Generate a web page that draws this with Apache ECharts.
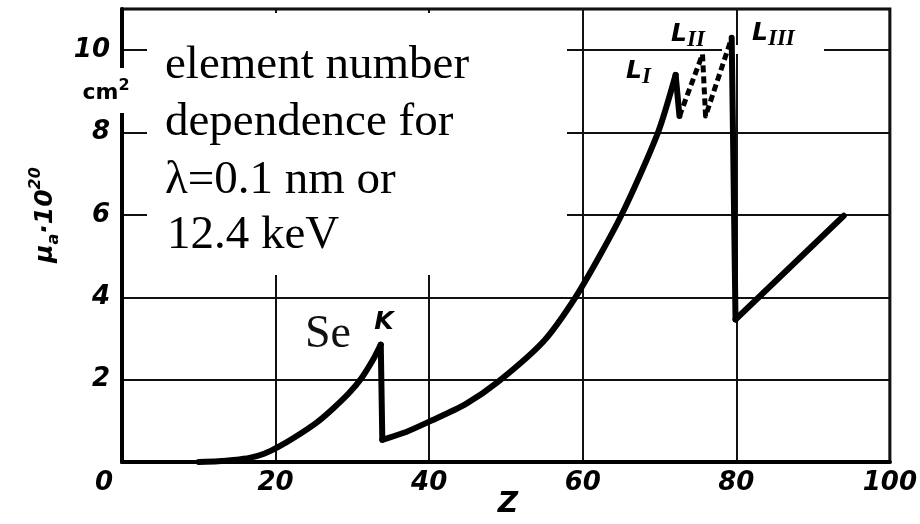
<!DOCTYPE html>
<html><head><meta charset="utf-8">
<script src="https://cdn.jsdelivr.net/npm/echarts@6/dist/echarts.min.js"></script>
<style>html,body{margin:0;padding:0;background:#fff}#c{width:920px;height:524px}</style>
</head><body><div id="c"></div>
<script>
// Tick values
const xTicks = [0, 20, 40, 60, 80, 100];
const yTicks = [0, 2, 4, 6, 8, 10];
// Rising branch up to Se K edge
const zRise1 = [10, 12.5, 14.5, 16.6, 18.5, 20.3, 22.5, 25.3, 27.5, 29.6, 31.2, 32.8, 33.7];
const muRise1 = [0, 0.02, 0.05, 0.1, 0.2, 0.36, 0.6, 0.95, 1.3, 1.68, 2.04, 2.52, 2.85];
// After K edge up to L_I edge
const zRise2 = [33.9, 37, 40, 44.7, 49, 55, 59.4, 65, 69.8, 72.1];
const muRise2 = [0.54, 0.73, 0.98, 1.4, 1.95, 2.95, 4.1, 5.98, 8.0, 9.4];
// L_I -> L_II -> L_III fine structure (dashed)
const zEdges = [72.6, 75.6, 76.0, 79.4];
const muEdges = [8.4, 9.9, 8.4, 10.3];
// After L_III edge
const zRise3 = [79.9, 94];
const muRise3 = [3.46, 5.98];

function pairs(xs, ys) { return xs.map((x, i) => [x, ys[i]]); }
const last = a => a[a.length - 1];
const kDrop = [[last(zRise1), last(muRise1)], [zRise2[0], muRise2[0]]];
const lIDrop = [[last(zRise2), last(muRise2)], [zEdges[0], muEdges[0]]];
const lIIIDrop = [[last(zEdges), last(muEdges)], [zRise3[0], muRise3[0]]];

const tickFont = { fontFamily: 'DejaVu Sans', fontStyle: 'italic', fontWeight: 'bold', fontSize: 26, color: '#000' };
const serif = 'Liberation Serif';
const solid = { color: '#000', width: 6, join: 'round', cap: 'round' };
function lineSeries(data, style, smooth) {
  return { type: 'line', data: data, showSymbol: false, symbol: 'none', z: 2, smooth: smooth || false, lineStyle: style };
}
const lRich = {
  l: { fontFamily: 'DejaVu Sans', fontStyle: 'italic', fontWeight: 'bold', fontSize: 25, lineHeight: 30, fill: '#000', verticalAlign: 'top' },
  s: { fontFamily: serif, fontStyle: 'italic', fontWeight: 'bold', fontSize: 23, lineHeight: 22, fill: '#000', verticalAlign: 'bottom' }
};

const chart = echarts.init(document.getElementById('c'), null, { renderer: 'canvas' });
chart.setOption({
  animation: false,
  backgroundColor: '#fff',
  grid: { left: 122, right: 27, top: 9, bottom: 62, show: true, borderColor: '#000', borderWidth: 3, backgroundColor: 'transparent' },
  xAxis: {
    type: 'value', min: 0, max: 100, interval: 20,
    axisLine: { show: true, lineStyle: { color: '#000', width: 4 } },
    axisTick: { show: false },
    splitLine: { show: true, lineStyle: { color: '#111', width: 2 } },
    axisLabel: Object.assign({}, tickFont, {
      margin: 8,
      formatter: v => (xTicks.indexOf(v) === 0 ? '{z|' + v + '}' : (xTicks.indexOf(v) >= 0 ? String(v) : '')),
      rich: { z: Object.assign({}, tickFont, { padding: [0, 36, 0, 0] }) }
    })
  },
  yAxis: {
    type: 'value', min: 0, max: 11, interval: 2,
    axisLine: { show: true, lineStyle: { color: '#000', width: 4 } },
    axisTick: { show: false },
    splitLine: { show: true, lineStyle: { color: '#111', width: 2 } },
    axisLabel: Object.assign({}, tickFont, {
      margin: 12, showMaxLabel: false,
      formatter: v => (yTicks.indexOf(v) > 0 ? String(v) : '')
    })
  },
  series: [
    lineSeries(pairs(zRise1, muRise1), solid, 0.25),
    lineSeries(kDrop, solid),
    lineSeries(pairs(zRise2, muRise2), solid, 0.25),
    lineSeries(lIDrop, solid),
    lineSeries(pairs(zEdges, muEdges), { color: '#000', width: 5, type: [7, 4], join: 'round' }),
    lineSeries(lIIIDrop, solid),
    lineSeries(pairs(zRise3, muRise3), solid)
  ],
  graphic: [
    { type: 'rect', z: 1, shape: { x: 147, y: 13, width: 420, height: 262 }, style: { fill: '#fff' } },
    { type: 'rect', z: 1, shape: { x: 110, y: 68, width: 24, height: 45 }, style: { fill: '#fff' } },
    { type: 'rect', z: 1, shape: { x: 722, y: 45, width: 102, height: 9 }, style: { fill: '#fff' } },
    { type: 'text', z: 3, style: { text: 'element number', x: 165, y: 66, fontFamily: serif, fontSize: 47, fill: '#000', align: 'left', verticalAlign: 'middle' } },
    { type: 'text', z: 3, style: { text: 'dependence for', x: 165, y: 123, fontFamily: serif, fontSize: 47, fill: '#000', align: 'left', verticalAlign: 'middle' } },
    { type: 'text', z: 3, style: { text: 'λ=0.1 nm or', x: 165, y: 181, fontFamily: serif, fontSize: 47, fill: '#000', align: 'left', verticalAlign: 'middle' } },
    { type: 'text', z: 3, style: { text: '12.4 keV', x: 167, y: 236, fontFamily: serif, fontSize: 47, fill: '#000', align: 'left', verticalAlign: 'middle' } },
    { type: 'text', z: 3, style: { text: 'Se', x: 328, y: 335, fontFamily: serif, fontSize: 46, fill: '#111', align: 'center', verticalAlign: 'middle' } },
    { type: 'text', z: 3, style: { text: 'K', x: 384, y: 322, fontFamily: 'DejaVu Sans', fontStyle: 'italic', fontWeight: 'bold', fontSize: 25, fill: '#000', align: 'center', verticalAlign: 'middle' } },
    { type: 'text', z: 3, style: { text: '{l|L}{s|I}', x: 626, y: 74, align: 'left', verticalAlign: 'middle', rich: lRich } },
    { type: 'text', z: 3, style: { text: '{l|L}{s|II}', x: 671, y: 37, align: 'left', verticalAlign: 'middle', rich: lRich } },
    { type: 'text', z: 3, style: { text: '{l|L}{s|III}', x: 752, y: 36, align: 'left', verticalAlign: 'middle', rich: lRich } },
    { type: 'text', z: 3, style: { text: 'cm{p|2}', x: 106, y: 93, align: 'center', verticalAlign: 'middle',
        fontFamily: 'DejaVu Sans', fontWeight: 'bold', fontSize: 22, fill: '#000',
        rich: { p: { fontFamily: 'DejaVu Sans', fontWeight: 'bold', fontSize: 16, lineHeight: 30, fill: '#000', verticalAlign: 'top' } } } },
    { type: 'text', z: 3, x: 45, y: 215, rotation: Math.PI / 2,
      style: { text: '{m|μ}{s|a}{m|·10}{p|20}', x: 0, y: 0, align: 'center', verticalAlign: 'middle',
        rich: { m: { fontFamily: 'DejaVu Sans', fontStyle: 'italic', fontWeight: 'bold', fontSize: 25, lineHeight: 34, fill: '#000', verticalAlign: 'middle' },
                s: { fontFamily: 'DejaVu Sans', fontStyle: 'italic', fontWeight: 'bold', fontSize: 16, lineHeight: 15, fill: '#000', verticalAlign: 'bottom' },
                p: { fontFamily: 'DejaVu Sans', fontStyle: 'italic', fontWeight: 'bold', fontSize: 16, lineHeight: 15, fill: '#000', verticalAlign: 'top' } } } },
    { type: 'text', z: 3, style: { text: 'Z', x: 508, y: 505, fontFamily: 'DejaVu Sans', fontStyle: 'italic', fontWeight: 'bold', fontSize: 28, fill: '#000', align: 'center', verticalAlign: 'middle' } }
  ]
});
</script></body></html>
